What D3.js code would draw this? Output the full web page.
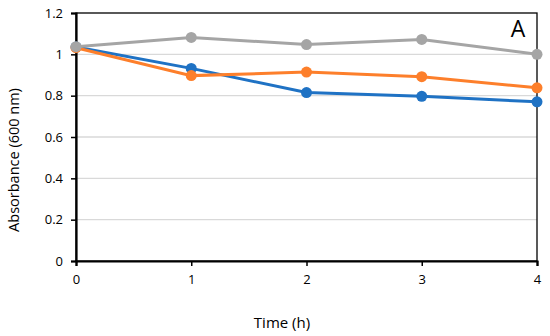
<!DOCTYPE html>
<html>
<head>
<meta charset="utf-8">
<script src="https://cdn.jsdelivr.net/npm/d3@7"></script>
<style>
  body { margin: 0; background: #fff; }
  text { font-family: "Open Sans", "Noto Sans", sans-serif; fill: #000; }
</style>
</head>
<body>
<script>
// Valores
var hours = [0, 1, 2, 3, 4];
var yTicks = [0, 0.2, 0.4, 0.6, 0.8, 1, 1.2];
var seriesBlue = [1.035, 0.932, 0.815, 0.797, 0.770];
var seriesOrange = [1.032, 0.897, 0.914, 0.892, 0.838];
var seriesGray = [1.037, 1.082, 1.047, 1.072, 1.000];
var seriesColors = ["#1f72c4", "#fd7f2b", "#a5a5a5"];

var width = 550, height = 336;
var margin = { top: 13, right: 13, bottom: 75, left: 76 };
var w = width - margin.left - margin.right,
    h = height - margin.top - margin.bottom;

var svg = d3.select("body").append("svg")
    .attr("width", width)
    .attr("height", height);

var g = svg.append("g")
    .attr("transform", "translate(" + margin.left + "," + margin.top + ")");

var x = d3.scaleLinear().domain([0, 4]).range([0, w]);
var y = d3.scaleLinear().domain([0, 1.2]).range([h, 0]);

// linhas de grade
g.selectAll(".grid")
    .data(yTicks.filter(d => d > 0 && d < 1.2))
    .enter().append("line")
    .attr("x1", 0).attr("x2", w)
    .attr("y1", d => y(d)).attr("y2", d => y(d))
    .attr("stroke", "#d9d9d9")
    .attr("stroke-width", 1.3);

// moldura (topo e direita)
g.append("rect")
    .attr("width", w).attr("height", h)
    .attr("fill", "none")
    .attr("stroke", "#000")
    .attr("stroke-width", 1.3);

// eixo Y
var yAxis = g.append("g")
    .call(d3.axisLeft(y).tickValues(yTicks).tickSize(5).tickPadding(8)
        .tickFormat(d => d3.format("")(+d.toFixed(1))));
// eixo X
var xAxis = g.append("g")
    .attr("transform", "translate(0," + h + ")")
    .call(d3.axisBottom(x).tickValues(hours).tickSize(5).tickPadding(9).tickFormat(d3.format("d")));

[xAxis, yAxis].forEach(function(a) {
    a.select(".domain").attr("stroke", "#000").attr("stroke-width", 2.2);
    a.selectAll(".tick line").attr("stroke", "#000").attr("stroke-width", 1.5);
    a.selectAll(".tick text").style("font-size", "13px").attr("fill", "#000");
});

// séries
var line = d3.line().x((d, i) => x(hours[i])).y(d => y(d));
[seriesBlue, seriesOrange, seriesGray].forEach(function(s, k) {
    g.append("path")
        .datum(s)
        .attr("fill", "none")
        .attr("stroke", seriesColors[k])
        .attr("stroke-width", 3)
        .attr("d", line);
    g.selectAll(".pt" + k)
        .data(s)
        .enter().append("circle")
        .attr("cx", (d, i) => x(hours[i]))
        .attr("cy", d => y(d))
        .attr("r", 5.5)
        .attr("fill", seriesColors[k]);
});

// rótulo "A"
g.append("text")
    .attr("x", w - 19)
    .attr("y", 24)
    .style("text-anchor", "middle")
    .style("font-size", "23px")
    .text("A");

// rótulo do eixo X
svg.append("text")
    .attr("x", 282)
    .attr("y", 328)
    .style("text-anchor", "middle")
    .style("font-size", "15px")
    .text("Time (h)");

// rótulo do eixo Y
svg.append("text")
    .attr("transform", "rotate(-90)")
    .attr("x", -160)
    .attr("y", 19)
    .style("text-anchor", "middle")
    .style("font-size", "14.5px")
    .text("Absorbance (600 nm)");
</script>
</body>
</html>
